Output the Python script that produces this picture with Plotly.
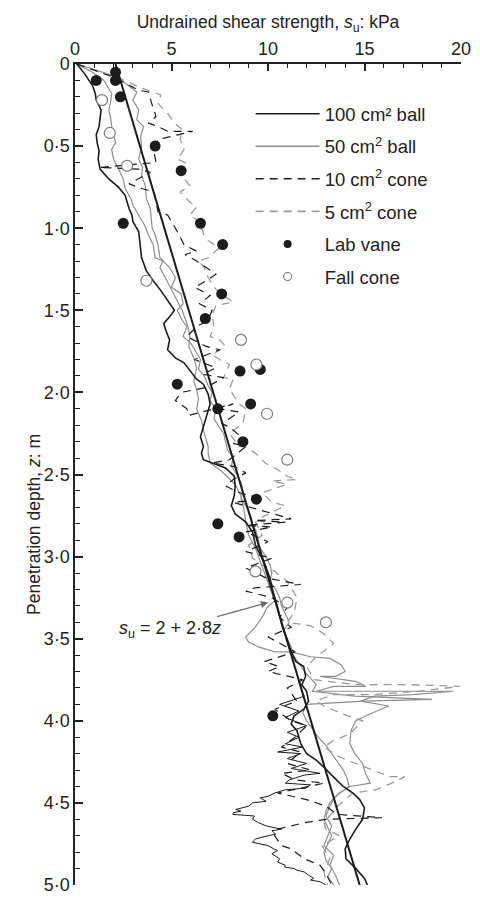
import plotly.graph_objects as go

# ---------------- data (depth z in m, strength su in kPa) ----------------
BALL100_A = [(0.00,0.10),(0.06,0.50),(0.13,0.90),(0.18,1.05),(0.22,1.10),(0.28,1.35),(0.33,1.30),(0.38,1.25),
             (0.43,1.10),(0.48,1.15),(0.53,1.25),(0.58,1.20),(0.64,1.30),(0.70,1.75),(0.75,2.25),(0.80,2.60),
             (0.84,2.70),(0.88,2.80),(0.92,2.95),(0.96,3.00),(1.02,3.30),(1.09,3.35),(1.18,3.45),(1.26,3.70),
             (1.32,4.05),(1.38,4.45),(1.44,4.80),(1.50,5.15),(1.54,4.90),(1.58,4.60),(1.62,4.70),(1.68,4.90),
             (1.74,4.80),(1.79,5.20),(1.82,5.65),(1.86,5.90),(1.92,6.30),(1.95,6.65),(2.01,6.90),(2.07,7.00),
             (2.15,6.80),(2.21,6.65),(2.27,6.50),(2.33,6.65),(2.37,6.55),(2.41,6.65),(2.43,7.10),(2.46,7.80),
             (2.51,8.25),(2.57,8.30),(2.63,8.25),(2.69,8.10),(2.74,8.30),(2.79,8.85),(2.85,9.20),(2.93,9.35),
             (2.99,9.60),(3.05,9.85),(3.13,10.10),(3.21,10.25),(3.29,10.45),(3.37,10.60),(3.43,10.75),
             (3.49,10.95),(3.58,11.20),(3.64,11.45),(3.67,11.85),(3.73,11.95),(3.78,11.75),(3.82,12.00),
             (3.88,12.10),(3.93,11.85),(3.97,11.35),(4.02,11.20),(4.06,11.50),(4.14,11.70),(4.20,12.00),
             (4.24,12.50),(4.28,12.88),(4.34,13.38),(4.40,13.90),(4.44,14.40),(4.48,14.75),(4.53,15.00),
             (4.60,14.90),(4.66,14.55),(4.72,14.24),(4.78,14.00),(4.84,14.04),(4.90,14.55),(4.96,15.00),(5.00,15.15)]

BALL100_B = [(3.85,11.9),(3.90,10.6),(3.94,11.6),(3.98,10.9),(4.03,12.0),(4.07,11.0),(4.10,11.6),(4.14,10.9),
             (4.16,11.8),(4.19,10.5),(4.20,11.7),(4.23,11.0),(4.26,12.0),(4.29,11.2),(4.32,12.7),(4.33,11.9),
             (4.36,11.1),(4.38,10.9),(4.39,12.2),(4.41,11.97),(4.42,10.9),(4.44,10.35),(4.46,10.0),(4.47,9.6),
             (4.49,9.9),(4.50,9.2),(4.52,9.0),(4.53,8.6),(4.54,8.33),(4.55,8.6),(4.56,8.2),(4.57,8.18),
             (4.58,9.3),(4.60,9.2),(4.62,9.5),(4.64,9.9),(4.66,10.7),(4.67,10.2),(4.69,10.4),(4.70,10.0),
             (4.71,9.6),(4.72,9.34),(4.74,9.19),(4.75,9.6),(4.76,10.0),(4.78,10.3),(4.79,10.5),(4.81,10.2),
             (4.82,10.35),(4.84,10.6),(4.86,10.5),(4.88,10.9),(4.89,10.86),(4.90,11.36),(4.91,11.5),
             (4.92,11.87),(4.94,12.1),(4.96,12.37),(4.97,12.2),(4.98,12.7),(5.00,13.0)]

BALL50_A = [(0.00,0.10),(0.05,0.90),(0.10,1.50),(0.18,1.90),(0.23,1.85),(0.28,1.75),(0.33,1.85),(0.38,1.90),
            (0.43,2.00),(0.48,2.10),(0.52,1.90),(0.58,2.00),(0.64,2.25),(0.70,2.50),(0.76,2.60),(0.82,2.90),
            (0.86,3.00),(0.92,3.30),(0.98,3.60),(1.04,3.80),(1.10,4.05),(1.18,4.15),(1.20,4.55),(1.24,4.40),
            (1.30,4.65),(1.35,4.90),(1.42,5.20),(1.50,5.55),(1.58,5.80),(1.65,5.95),(1.72,5.90),(1.79,6.15),
            (1.85,6.30),(1.93,6.15),(1.98,6.30),(2.04,6.40),(2.10,6.30),(2.17,6.55),(2.25,6.70),(2.33,6.90),
            (2.37,6.90),(2.43,7.00),(2.48,7.60),(2.56,8.30),(2.63,8.60),(2.71,8.75),(2.79,8.85),(2.87,9.00),
            (2.95,9.35),(3.03,9.60),(3.11,9.85),(3.19,10.10),(3.27,10.35),(3.31,9.95),(3.37,9.70),
            (3.43,9.34),(3.49,8.84),(3.52,9.00),(3.55,9.50),(3.58,10.35),(3.58,11.20),(3.61,12.20),
            (3.62,13.20),(3.66,13.80),(3.70,14.00),(3.73,13.50),(3.73,12.70),(3.76,14.55),(3.79,15.05),
            (3.79,13.40),(3.82,12.50),(3.82,16.26),(3.82,19.60),(3.84,17.50),(3.85,15.50),(3.88,14.80),
            (3.91,16.26),(3.96,15.25),(4.00,14.55),(4.06,14.30),(4.14,14.24),(4.20,14.50),(4.26,14.90),
            (4.32,15.05),(4.38,15.30),(4.40,14.24),(4.44,13.70),(4.48,13.38),(4.52,13.20),(4.58,13.00),
            (4.64,13.30),(4.70,13.10),(4.76,12.90),(4.82,13.40),(4.88,13.20),(4.94,13.50),(5.00,13.70)]

BALL50_B = [(0.00,0.10),(0.08,2.20),(0.17,3.20),(0.22,3.00),(0.28,3.30),(0.34,3.20),(0.38,3.55),(0.44,3.40),
            (0.50,3.45),(0.58,3.30),(0.63,3.50),(0.68,3.45),(0.74,3.64),(0.82,3.70),(0.88,3.90),(0.94,3.95),
            (1.00,4.00),(1.04,4.15),(1.10,4.30),(1.18,4.40),(1.24,4.90),(1.30,5.20),(1.36,5.00),(1.40,5.50),
            (1.46,5.60),(1.50,5.30),(1.55,5.50),(1.60,5.80),(1.66,5.60),(1.70,6.00),(1.76,6.30),(1.80,6.50),
            (1.86,6.40),(1.90,6.70),(1.96,6.90),(2.00,7.10),(2.05,7.00),(2.10,7.30),(2.16,7.20),(2.20,7.40),
            (2.25,7.70),(2.30,7.80),(2.35,7.90),(2.40,8.20),(2.45,8.10),(2.50,8.40),(2.55,8.60),(2.60,8.70),
            (2.65,8.60),(2.70,8.90),(2.75,9.10),(2.80,9.20),(2.85,9.40),(2.90,9.50),(2.95,9.60),(3.00,9.90),
            (3.05,10.10),(3.10,10.20),(3.15,10.10),(3.20,10.40),(3.25,10.60),(3.30,10.70),(3.35,10.90),
            (3.40,11.10),(3.45,10.80),(3.50,11.00),(3.55,11.20),(3.60,11.30),(3.65,11.60),(3.70,11.90),
            (3.74,12.20),(3.78,12.50),(3.82,12.30),(3.85,14.50),(3.87,18.50),(3.88,15.00),(3.90,12.00),
            (3.95,11.80),(4.00,12.00),(4.05,12.30),(4.10,12.60),(4.15,13.00),(4.20,13.30),(4.25,13.60),
            (4.30,13.90),(4.35,14.10),(4.40,14.20),(4.45,13.60),(4.50,13.20),(4.55,13.00),(4.60,12.90),
            (4.65,13.10),(4.70,13.30),(4.75,13.10),(4.80,12.90),(4.85,13.00),(4.90,13.30),(4.95,13.10),(5.00,13.40)]

CONE10 = [(0.00,0.10),(0.08,2.0),(0.16,3.3),(0.17,3.8),(0.25,4.0),(0.32,4.2),(0.36,3.8),(0.38,4.3),(0.41,4.8),
          (0.41,6.1),(0.46,4.3),(0.54,4.1),(0.60,4.2),(0.63,1.25),(0.64,3.3),(0.66,3.9),(0.73,2.8),(0.76,3.5),
          (0.78,4.1),(0.90,4.3),(0.92,4.8),(1.02,5.3),(1.10,5.65),(1.14,6.3),(1.16,5.7),(1.20,6.3),(1.28,7.3),
          (1.32,6.8),(1.36,6.2),(1.41,7.0),(1.46,6.45),(1.50,7.1),(1.56,6.9),(1.60,6.3),(1.66,5.8),(1.72,6.8),
          (1.74,7.5),(1.80,6.2),(1.85,7.3),(1.89,6.6),(1.91,7.7),(1.97,6.8),(2.00,5.5),(2.05,5.2),(2.10,5.8),
          (2.14,5.9),(2.07,8.2),(2.10,7.5),(2.12,8.5),(2.19,7.6),(2.21,8.0),(2.29,8.8),(2.31,8.2),(2.33,8.85),
          (2.41,8.0),(2.43,7.1),(2.45,8.2),(2.49,8.85),(2.53,8.2),(2.57,7.8),(2.61,8.5),(2.65,9.7),(2.67,8.2),
          (2.77,11.2),(2.78,9.3),(2.79,10.9),(2.81,8.85),(2.82,10.2),(2.85,8.85),(2.91,10.0),(2.97,8.85),
          (3.01,10.2),(3.07,8.85),(3.13,9.9),(3.17,11.7),(3.19,9.35),(3.21,8.85),(3.25,10.2),(3.31,11.0),
          (3.37,10.6),(3.43,11.2),(3.49,10.0),(3.52,10.5),(3.58,11.4),(3.64,9.8),(3.67,10.6),(3.70,10.0),
          (3.75,11.8),(3.80,11.0),(3.88,11.5),(3.93,10.35),(4.00,11.2),(4.03,12.0),(4.10,11.4),(4.16,10.7),
          (4.19,11.7),(4.26,11.0),(4.30,12.2),(4.32,10.7),(4.36,11.4),(4.38,12.9),(4.44,10.5),(4.48,12.0),
          (4.52,13.0),(4.57,13.6),(4.59,15.9),(4.60,13.0),(4.62,11.9),(4.66,10.5),(4.70,10.35),(4.76,10.7),
          (4.78,11.2),(4.84,11.87),(4.88,12.7),(4.93,13.0),(5.00,13.3)]

CONE5 = [(0.00,0.10),(0.10,2.6),(0.14,3.3),(0.18,4.15),(0.19,4.45),(0.24,4.3),(0.30,4.8),(0.36,5.15),(0.40,5.55),
         (0.46,5.45),(0.52,5.65),(0.58,5.3),(0.60,5.7),(0.66,5.4),(0.74,5.95),(0.78,5.45),(0.84,5.95),(0.87,6.3),
         (0.92,5.95),(0.96,6.45),(1.04,6.67),(1.08,6.95),(1.12,7.47),(1.18,6.9),(1.20,6.4),(1.24,6.7),(1.30,6.9),
         (1.36,7.2),(1.42,7.8),(1.45,8.2),(1.47,7.3),(1.53,7.1),(1.60,7.2),(1.66,7.0),(1.68,7.5),(1.72,7.8),
         (1.77,7.1),(1.80,7.5),(1.83,8.0),(1.91,7.7),(1.92,8.2),(1.98,8.0),(2.07,8.5),(2.10,8.85),(2.19,8.7),
         (2.25,8.0),(2.33,8.5),(2.33,8.85),(2.37,9.35),(2.43,9.85),(2.47,10.5),(2.51,11.0),(2.53,11.5),
         (2.54,10.2),(2.56,11.0),(2.61,9.7),(2.67,10.2),(2.69,10.9),(2.75,9.85),(2.79,9.35),(2.87,9.7),
         (2.93,9.0),(3.01,9.2),(3.05,9.7),(3.09,10.35),(3.15,11.0),(3.25,11.5),(3.34,11.36),(3.40,11.0),
         (3.42,12.2),(3.47,12.9),(3.53,13.4),(3.61,12.5),(3.67,12.0),(3.75,12.4),(3.78,14.55),(3.78,17.3),
         (3.79,19.95),(3.82,17.9),(3.84,15.4),(3.84,13.4),(3.88,12.5),(3.91,12.9),(3.96,13.9),(4.00,14.9),
         (4.08,14.24),(4.12,13.4),(4.16,12.9),(4.22,13.7),(4.26,14.55),(4.30,15.4),(4.34,16.3),(4.34,17.1),
         (4.38,16.4),(4.42,15.6),(4.44,14.4),(4.52,13.6),(4.62,12.9),(4.66,13.0),(4.70,13.7),(4.76,12.8),
         (4.84,13.2),(4.92,12.9),(4.98,13.0),(5.00,13.1)]

LAB_VANE_Z = [0.10, 0.05, 0.10, 0.20, 0.50, 0.65, 0.97, 0.97, 1.10, 1.40, 1.55, 1.87, 1.86, 1.95, 2.07, 2.10,
              2.30, 2.65, 2.80, 2.88, 3.97]
LAB_VANE_SU = [1.10, 2.10, 2.10, 2.35, 4.15, 5.50, 2.50, 6.50, 7.65, 7.60, 6.75, 8.55, 9.60, 5.30, 9.10, 7.40,
               8.70, 9.40, 7.40, 8.50, 10.25]

FALL_CONE_Z = [0.22, 0.42, 0.62, 1.32, 1.68, 1.83, 2.13, 2.41, 3.09, 3.28, 3.40]
FALL_CONE_SU = [1.40, 1.80, 2.70, 3.70, 8.60, 9.40, 9.95, 11.00, 9.35, 11.00, 13.00]

TREND_Z = [0.0, 5.0]
TREND_SU = [2.1, 14.75]

Y_TICKS = [0, 0.5, 1.0, 1.5, 2.0, 2.5, 3.0, 3.5, 4.0, 4.5, 5.0]
Y_TICKTEXT = ["0", "0·5", "1·0", "1·5", "2·0", "2·5", "3·0", "3·5", "4·0", "4·5", "5·0"]
X_TICKS = [0, 5, 10, 15, 20]

NAMES = ["100 cm² ball", "50 cm<sup>2</sup> ball", "10 cm<sup>2</sup> cone", "5 cm<sup>2</sup> cone",
         "Lab vane", "Fall cone"]

FONT = "Liberation Sans, Arial, Helvetica, sans-serif"
BLACK = "#1c1c1c"
GREY = "#8d8d8d"
GREY_D = "#9b9b9b"

fig = go.Figure()


def line_trace(pairs, name, group, color, width, dash):
    fig.add_trace(go.Scatter(
        x=[p[1] for p in pairs], y=[p[0] for p in pairs], mode="lines", name=name,
        legendgroup=group, showlegend=False,
        line=dict(color=color, width=width, dash=dash)))


line_trace(BALL50_A, NAMES[1], "b50", GREY, 1.2, "solid")
line_trace(BALL50_B, NAMES[1], "b50", GREY, 1.2, "solid")
line_trace(CONE5, NAMES[3], "c5", GREY_D, 1.3, "8px,6px")
line_trace(CONE10, NAMES[2], "c10", BLACK, 1.2, "8px,6px")
line_trace(BALL100_B, NAMES[0], "b100", BLACK, 1.0, "solid")
line_trace(BALL100_A, NAMES[0], "b100", BLACK, 1.6, "solid")

# trend line
fig.add_trace(go.Scatter(x=TREND_SU, y=TREND_Z, mode="lines", showlegend=False,
                         line=dict(color=BLACK, width=2)))

# point data
fig.add_trace(go.Scatter(x=LAB_VANE_SU, y=LAB_VANE_Z, mode="markers", name=NAMES[4], legendgroup="lv",
                         showlegend=False,
                         marker=dict(symbol="circle", size=11, color=BLACK, line=dict(width=0))))
fig.add_trace(go.Scatter(x=FALL_CONE_SU, y=FALL_CONE_Z, mode="markers", name=NAMES[5], legendgroup="fc",
                         showlegend=False,
                         marker=dict(symbol="circle", size=11, color="white",
                                     line=dict(width=1.2, color="#7a7a7a"))))

# legend entries (ordered)
fig.add_trace(go.Scatter(x=[None], y=[None], mode="lines", name=NAMES[0], legendgroup="b100",
                         line=dict(color=BLACK, width=1.6)))
fig.add_trace(go.Scatter(x=[None], y=[None], mode="lines", name=NAMES[1], legendgroup="b50",
                         line=dict(color=GREY, width=1.6)))
fig.add_trace(go.Scatter(x=[None], y=[None], mode="lines", name=NAMES[2], legendgroup="c10",
                         line=dict(color=BLACK, width=1.6, dash="8px,6px")))
fig.add_trace(go.Scatter(x=[None], y=[None], mode="lines", name=NAMES[3], legendgroup="c5",
                         line=dict(color=GREY_D, width=1.6, dash="8px,6px")))
fig.add_trace(go.Scatter(x=[None], y=[None], mode="markers", name=NAMES[4], legendgroup="lv",
                         marker=dict(symbol="circle", size=8, color=BLACK, line=dict(width=0))))
fig.add_trace(go.Scatter(x=[None], y=[None], mode="markers", name=NAMES[5], legendgroup="fc",
                         marker=dict(symbol="circle", size=8, color="white", line=dict(width=1.1, color="#7a7a7a"))))

fig.add_annotation(x=10.0, y=3.28, xref="x", yref="y", ax=-98, ay=27,
                   text="<i>s</i><sub>u</sub> = 2 + 2·8<i>z</i>", showarrow=True,
                   arrowhead=2, arrowsize=1.2, arrowwidth=1.2, arrowcolor="#6a6a6a",
                   font=dict(family=FONT, size=18, color="#222"))

# y-axis title as rotated text
fig.add_annotation(x=-0.139, y=0.439, xref="paper", yref="paper", showarrow=False, textangle=-90,
                   text="Penetration depth, <i>z</i>: m", font=dict(family=FONT, size=17.5, color="#222"))

fig.update_layout(
    width=480, height=904,
    margin=dict(l=75, r=9, t=64, b=11),
    paper_bgcolor="white", plot_bgcolor="white",
    font=dict(family=FONT, size=18, color="#222"),
    showlegend=True,
    legend=dict(x=0.455, y=0.962, xanchor="left", yanchor="top", bgcolor="rgba(0,0,0,0)",
                font=dict(family=FONT, size=18.5, color="#222"), traceorder="grouped",
                tracegroupgap=5.5, itemwidth=64),
    xaxis=dict(side="top", range=[0, 20], tickvals=X_TICKS, ticks="inside", ticklen=7, tickwidth=1.5,
               tickcolor="#222", showline=True, linecolor="#222", linewidth=1.5, showgrid=False,
               zeroline=False, ticklabeloverflow="allow",
               minor=dict(dtick=1, ticks="inside", ticklen=4, tickwidth=1.2, tickcolor="#222"),
               title=dict(text="Undrained shear strength, <i>s</i><sub>u</sub>: kPa", standoff=6,
                          font=dict(family=FONT, size=17.5)),
               tickfont=dict(family=FONT, size=18)),
    yaxis=dict(range=[5, 0], tickvals=Y_TICKS, ticktext=Y_TICKTEXT, ticks="inside", ticklen=8,
               tickwidth=1.5, tickcolor="#222", showline=True, linecolor="#222", linewidth=1.5,
               showgrid=False, zeroline=False,
               minor=dict(dtick=0.1, ticks="inside", ticklen=5, tickwidth=1.2, tickcolor="#222"),
               tickfont=dict(family=FONT, size=18)),
)

fig.write_html("out.html")
